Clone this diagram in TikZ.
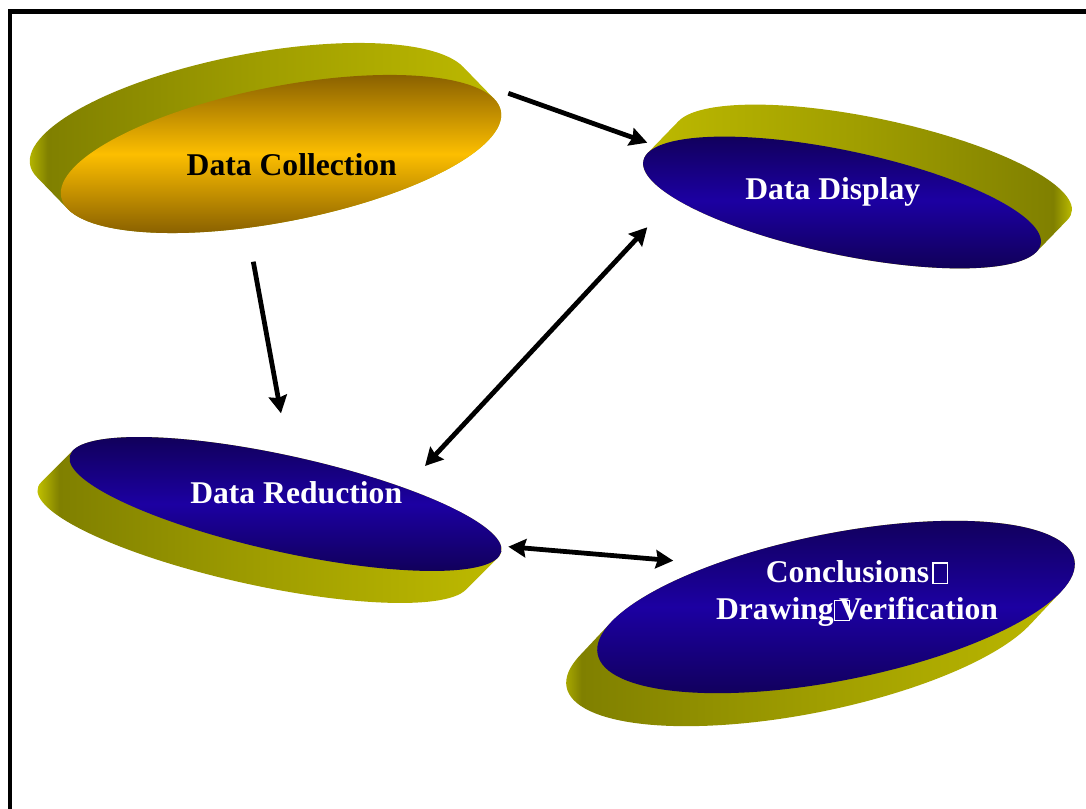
\documentclass[tikz,border=0pt]{standalone}
\usepackage{fontspec}
\setmainfont{Liberation Serif}
\usetikzlibrary{arrows.meta}

\definecolor{bandlight}{RGB}{245,245,0}
\definecolor{banddark}{RGB}{128,128,0}
\definecolor{bandmid}{RGB}{160,158,0}
\definecolor{bandend}{RGB}{192,188,0}
\definecolor{golddark}{RGB}{122,84,0}
\definecolor{goldlight}{RGB}{252,190,0}
\definecolor{navydark}{RGB}{16,0,84}
\definecolor{navylight}{RGB}{28,0,162}

\pgfdeclarehorizontalshading{bandleft}{100bp}{color(0bp)=(bandlight); color(25bp)=(bandlight);
  color(29bp)=(banddark); color(50bp)=(bandmid); color(75bp)=(bandend); color(100bp)=(bandend)}
\pgfdeclarehorizontalshading{bandright}{100bp}{color(0bp)=(bandend); color(25bp)=(bandend);
  color(50bp)=(bandmid); color(71bp)=(banddark); color(75bp)=(bandlight); color(100bp)=(bandlight)}

% disc: centre x, centre y, x radius, y radius, tilt, shift x, shift y, side shading, face style
\newcommand{\drawdisc}[9]{%
  \begin{scope}[shift={(#1,#2)}, rotate=#5]
    \pgfmathsetmacro\vxl{(#6)*cos(#5)+(#7)*sin(#5)}
    \pgfmathsetmacro\vyl{-(#6)*sin(#5)+(#7)*cos(#5)}
    \pgfmathsetmacro\tza{atan2(-(#4)*\vxl,(#3)*\vyl)}
    \pgfmathsetmacro\tzb{\tza+180}
    \pgfmathsetmacro\tzc{\tza+360}
    \shade[shading=#8] (\tza:#3 and #4) -- ++(\vxl,\vyl)
      arc[start angle=\tza, end angle=\tzb, x radius=#3, y radius=#4]
      -- ++(-\vxl,-\vyl)
      arc[start angle=\tzb, end angle=\tzc, x radius=#3, y radius=#4] -- cycle;
    \shade[#9] (0,0) ellipse[x radius=#3, y radius=#4];
  \end{scope}}

% box of a glyph the font did not have
\newcommand{\nobox}{{\setlength{\fboxsep}{0pt}\setlength{\fboxrule}{0.035em}%
  \fbox{\rule{0pt}{0.6em}\hspace{0.43em}}}}

\begin{document}
\begin{tikzpicture}[x=0.025cm, y=0.025cm,
    % --- Styles ---
    frame/.style={line width=3.2pt},
    disctext/.style={font=\fontsize{22.5}{26.5}\selectfont\bfseries, inner sep=0pt},
    darktext/.style={disctext, text=black, anchor=base},
    lighttext/.style={disctext, text=white, anchor=base},
    goldface/.style={top color=golddark, bottom color=golddark, middle color=goldlight},
    blueface/.style={top color=navydark, bottom color=navydark, middle color=navylight},
    flow/.style={-{Stealth[length=12.5pt, width=13pt, inset=1.5pt]}, line width=3.4pt},
    twoway/.style={flow, {Stealth[length=12.5pt, width=13pt, inset=1.5pt]}-{Stealth[length=12.5pt, width=13pt, inset=1.5pt]}},
]
\useasboundingbox (0,0) rectangle (1086,809);

% === Frame ===
\draw[frame] (10,0) -- (10,797.5) -- (1086,797.5);

% === Discs ===
\drawdisc{281}{655}{224}{67.5}{11.1}{-31}{32}{bandleft}{goldface}
\drawdisc{842}{606.5}{203}{52}{-11.9}{31}{32}{bandright}{blueface}
\drawdisc{285.5}{305}{221}{48}{-12.5}{-32}{-32}{bandleft}{blueface}
\drawdisc{836}{202}{243}{73.5}{11.2}{-31}{-33}{bandleft}{blueface}

% === Labels ===
\node[darktext]  (collect) at (291.7,633.3) {Data Collection};
\node[lighttext] (display) at (832.8,609.7) {Data Display};
\node[lighttext] (reduce)  at (296.2,305.7) {Data Reduction};
\node[disctext, text=white, align=center] (verify) at (857,215.3)
  {Conclusions\kern0.1em\nobox\\Drawing\nobox\kern-0.33em Verification};

% === Arrow ends ===
\coordinate (collect-e)  at (508.3,715.7);
\coordinate (display-w)  at (647.3,666.3);
\coordinate (collect-s)  at (253.3,547.3);
\coordinate (reduce-n)   at (281,395.7);
\coordinate (reduce-ne)  at (425,343);
\coordinate (display-sw) at (647.3,581.7);
\coordinate (reduce-e)   at (508.3,262.3);
\coordinate (verify-w)   at (673.3,248.3);

% === Arrows ===
\draw[flow]   (collect-e) -- (display-w);
\draw[flow]   (collect-s) -- (reduce-n);
\draw[twoway] (reduce-ne) -- (display-sw);
\draw[twoway] (reduce-e)  -- (verify-w);

\end{tikzpicture}
\end{document}
